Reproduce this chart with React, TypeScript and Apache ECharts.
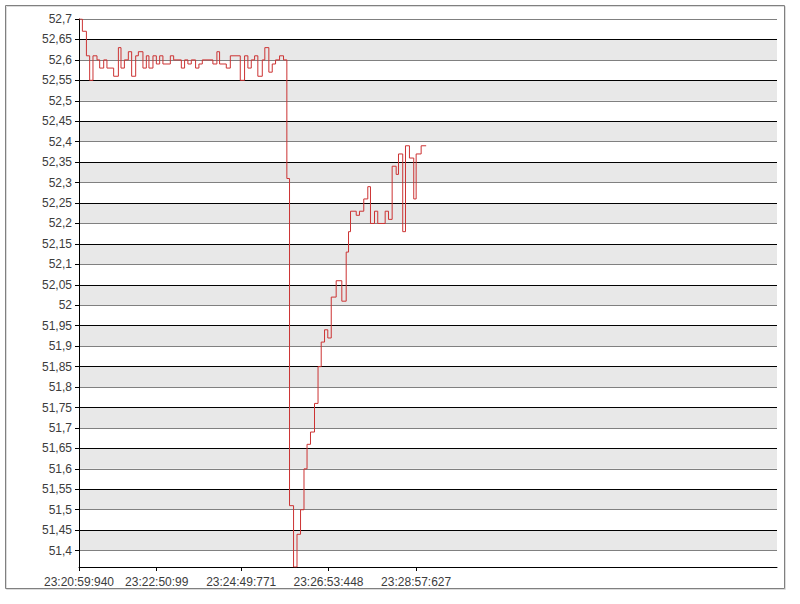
import React, { useEffect, useRef } from "react";
import * as echarts from "echarts";

// Seconds elapsed since 23:20:59.940 for each price change
const times: number[] = [
  0, 4.8, 10.5, 15.1, 19.8, 25.5, 29.3, 35.0, 39.6, 49.1,
  55.8, 59.5, 64.3, 69.9, 74.6, 80.3, 84.1, 90.6, 95.4, 99.1,
  104.8, 109.6, 114.3, 118.9, 129.4, 134.1, 145.0, 149.6, 154.3, 159.1,
  165.2, 169.9, 174.7, 189.7, 195.4, 199.2, 208.7, 214.4, 228.5, 234.6,
  239.3, 244.1, 248.8, 253.4, 259.7, 263.3, 269.0, 273.8, 278.5, 284.2,
  289.8, 294.5, 298.3, 304.0, 308.9, 313.9, 318.8, 323.1, 328.0, 333.7,
  338.7, 343.2, 347.9, 352.5, 357.4, 364.4, 372.4, 378.6, 381.9, 384.7,
  392.8, 397.4, 403.5, 409.2, 413.0, 418.7, 423.3, 433.8, 438.5, 443.7,
  449.4, 452.7, 458.7, 462.6, 468.2, 474.3, 477.7, 484.8, 491.9,
];

const prices: number[] = [
  52.70, 52.67, 52.61, 52.55, 52.61, 52.60, 52.58, 52.60, 52.58, 52.56,
  52.63, 52.58, 52.60, 52.62, 52.56, 52.61, 52.62, 52.58, 52.61, 52.58,
  52.61, 52.59, 52.61, 52.59, 52.61, 52.60, 52.58, 52.60, 52.59, 52.60,
  52.58, 52.59, 52.60, 52.59, 52.62, 52.59, 52.58, 52.61, 52.55, 52.61,
  52.58, 52.60, 52.61, 52.56, 52.60, 52.63, 52.57, 52.59, 52.60, 52.61,
  52.60, 52.31, 51.51, 51.36, 51.44, 51.50, 51.60, 51.66, 51.69, 51.76,
  51.85, 51.91, 51.94, 51.92, 52.02, 52.06, 52.01, 52.13, 52.18, 52.23,
  52.22, 52.23, 52.26, 52.29, 52.20, 52.23, 52.20, 52.23, 52.21, 52.34,
  52.32, 52.37, 52.18, 52.39, 52.36, 52.26, 52.37, 52.39, 52.39,
];

// X-axis tick positions (seconds since start) and their labels
const tickTimes: number[] = [0, 110.159, 229.831, 353.508, 477.687];
const tickLabels: string[] = [
  "23:20:59:940",
  "23:22:50:99",
  "23:24:49:771",
  "23:26:53:448",
  "23:28:57:627",
];

const yMin = 51.36;
const yMax = 52.7;
const xMax = 989;

export default function App() {
  const ref = useRef<HTMLDivElement>(null);

  useEffect(() => {
    if (!ref.current) return;
    const chart = echarts.init(ref.current, undefined, { renderer: "svg" });
    const data = times.map((t, i) => [t, prices[i]]);
    const font = "Arial, 'Liberation Sans', sans-serif";

    chart.setOption({
      animation: false,
      backgroundColor: "#ffffff",
      grid: { left: 79, right: 23, top: 19, bottom: 37, containLabel: false },
      graphic: [
        {
          type: "rect",
          shape: { x: 6.5, y: 6.5, width: 779, height: 583 },
          style: { fill: "none", stroke: "#dcdcdc", lineWidth: 1 },
          silent: true,
        },
        {
          type: "rect",
          shape: { x: 5.5, y: 5.5, width: 779, height: 583 },
          style: { fill: "none", stroke: "#808080", lineWidth: 1 },
          silent: true,
        },
      ],
      xAxis: {
        type: "value",
        min: 0,
        max: xMax,
        axisLine: { show: true, lineStyle: { color: "#000", width: 1 } },
        axisTick: {
          show: true,
          length: 4,
          customValues: tickTimes,
          lineStyle: { color: "#000" },
        },
        axisLabel: {
          customValues: tickTimes,
          color: "#3c3c3c",
          fontSize: 12,
          fontFamily: font,
          margin: 9,
          formatter: (v: number) => {
            let best = 0;
            for (let i = 1; i < tickTimes.length; i++) {
              if (Math.abs(tickTimes[i] - v) < Math.abs(tickTimes[best] - v)) best = i;
            }
            return tickLabels[best];
          },
        },
        splitLine: { show: false },
      },
      yAxis: {
        type: "value",
        min: yMin,
        max: yMax,
        splitNumber: 27,
        minInterval: 0.05,
        maxInterval: 0.05,
        axisLine: { show: true, lineStyle: { color: "#000", width: 1 } },
        axisTick: { show: true, length: 4, lineStyle: { color: "#000" } },
        axisLabel: {
          showMinLabel: false,
          color: "#3c3c3c",
          fontSize: 12,
          fontFamily: font,
          margin: 7,
          formatter: (v: number) => String(Math.round(v * 100) / 100).replace(".", ","),
        },
        splitLine: {
          show: true,
          lineStyle: { color: ["#000000", "#808080"], width: 1 },
        },
        splitArea: {
          show: true,
          areaStyle: { color: ["#ffffff", "#e8e8e8"] },
        },
      },
      series: [
        {
          type: "line",
          step: "end",
          data,
          showSymbol: false,
          symbol: "none",
          lineStyle: { color: "#cc3333", width: 1 },
          itemStyle: { color: "#cc3333" },
        },
      ],
    });

    return () => chart.dispose();
  }, []);

  return (
    <div
      ref={ref}
      style={{ position: "absolute", left: 0, top: 0, width: 800, height: 604 }}
    />
  );
}
